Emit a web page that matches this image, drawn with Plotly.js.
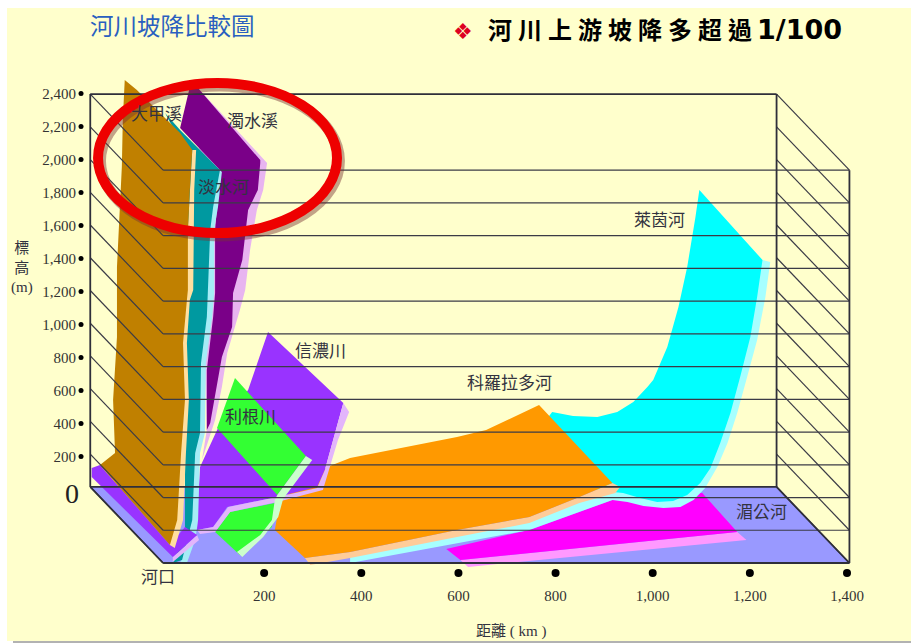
<!DOCTYPE html>
<html><head><meta charset="utf-8">
<script src="https://cdn.plot.ly/plotly-3.0.1.min.js"></script>
<style>html,body{margin:0;padding:0;background:#fff}#c{width:911px;height:644px}</style>
</head><body><div id="c"></div>
<script>
// axis values
const distanceTicks=[200,400,600,800,1000,1200,1400];
const distanceLabels=['200','400','600','800','1,000','1,200','1,400'];
const elevationTicks=[200,400,600,800,1000,1200,1400,1600,1800,2000,2200,2400];
const elevationLabels=['200','400','600','800','1,000','1,200','1,400','1,600','1,800','2,000','2,200','2,400'];
const levels=[0,200,400,600,800,1000,1200,1400,1600,1800,2000,2200,2400];

// river outlines as distance (km) / elevation (m) on the front plane
const mekongKm=[1102,917,746,575,604,1174];
const mekongM=[428,385,202,86,18,189];
const mekongEdgeKm=[1174,1193,620,604];
const mekongEdgeM=[189,141,-24,18];

const rhineEdgeKm=[1096,1226,1242,1232,1215,1191,1174,1154,1133,1108,1084,1057,1022,981,948,917,746,377,377,746,933,1100,1150];
const rhineEdgeM=[2279,1851,1839,1625,1363,1100,917,733,587,458,385,342,336,348,373,385,202,0,43,263,458,900,1800];
const rhineKm=[1096,1226,1215,1201,1180,1160,1139,1119,1098,1071,1042,1009,974,939,686,793,836,886,927,960,989,1001,1030,1053,1071,1088];
const rhineM=[2279,1851,1625,1381,1136,917,733,580,489,415,379,373,397,428,507,923,898,892,923,984,1075,1118,1320,1564,1809,2114];

const coloradoEdgeKm=[917,933,923,849,746,597,377,295,284,377,597,746,849];
const coloradoEdgeM=[489,464,428,367,244,159,31,-12,31,67,202,281,403];
const coloradoKm=[766,917,849,746,597,377,284,222,233,330,377,597,657];
const coloradoM=[965,489,403,281,202,67,31,202,385,587,642,770,813];

const shinanoKm=[208,363,325,309,227,124,95,62,64,68,105,167];
const shinanoM=[1411,978,568,464,403,342,220,202,385,587,825,1057];
const shinanoEdgeKm=[363,375,352,321,227,130,99,68,62,95,126,227,309,325];
const shinanoEdgeM=[978,923,752,446,373,312,189,177,202,220,342,403,458,568];

const toneUpperKm=[140,286,227,103];
const toneUpperM=[1130,654,415,825];
const toneLowerKm=[222,216,150,99,130];
const toneLowerM=[367,220,49,189,312];
const toneEdgeKm=[299,239,229,198,155,144,192,216,222,227,286];
const toneEdgeM=[629,391,281,159,37,67,171,263,385,415,654];

const zhuoshuiEdgeKm=[62,206,198,185,171,161,150,124,113,99,72,82];
const zhuoshuiEdgeM=[2908,2444,2279,2157,1912,1668,1546,1283,1075,874,629,813];
const zhuoshuiKm=[47,62,192,192,187,167,155,136,134,113,89,82,82,95,99,99,103,109,27];
const zhuoshuiM=[2908,2908,2462,2444,2279,2157,1851,1650,1442,1259,855,813,1179,1503,1650,2035,2175,2401,2658];

const tamsuiEdgeKm=[109,113,105,97,97,93,80,78,68,64,58,41,27,47,37];
const tamsuiEdgeM=[2401,2389,2175,2035,1650,1503,1222,794,672,263,141,0,0,202,1607];
const tamsuiKm=[-4,27,109,95,89,84,82,70,68,58,52,31,12,37,37,37];
const tamsuiM=[2750,2646,2401,2175,2035,1650,1503,1222,794,672,263,18,0,183,1607,2523];

const mouthKm=[-155,-138,6,37,62,12,-155];
const mouthM=[580,599,110,220,171,37,525];
const mouthEdgeKm=[62,12,12,66];
const mouthEdgeM=[171,37,6,141];

const tachiaEdgeKm=[52,60,56,54,47,41,45,39,33,16,6];
const tachiaEdgeM=[2523,2523,2279,1668,1607,1344,996,672,263,92,110];
const tachiaKm=[-87,-62,27,52,47,43,43,41,33,37,29,21,6,-138,-107,-111,-103,-103,-93,-91];
const tachiaM=[2951,2890,2627,2523,2279,2016,1668,1607,1344,996,672,263,110,599,672,996,1381,1809,2420,2707];

// river name labels
const riverNames=['大甲溪','濁水溪','淡水河','萊茵河','信濃川','科羅拉多河','利根川','湄公河','河口'];
const riverLabelKm=[-21,177,117,1014,317,705,171,1224,-19];
const riverLabelM=[2743,2695,2297,2090,1295,1094,886,306,-86];

const depthKm=-150, depthM=465;
const frameLeft=-8, frameRight=1405;
const kmScale=680/1400, mPerPx=6.11;

function poly(x,y,color){return {type:'scatter',mode:'none',x:x,y:y,fill:'toself',fillcolor:color,hoverinfo:'skip',showlegend:false};}

const traces=[];
// floor
traces.push(poly([frameLeft,frameRight,frameRight+depthKm,frameLeft+depthKm],[0,0,depthM,depthM],'#9999ff'));
const MAG='#ff00ff',MAGL='#ff99ff',CY='#00ffff',CYL='#a6ffff',OR='#ff9900',ORL='#ffcc99',
 VI='#9933ff',VIL='#e3b5fb',GR='#33ff33',GRL='#ccffcc',DP='#7a0088',DPL='#e8b4f0',TE='#0099a0',TEL='#a5ecf6',BR='#c08000',BRL='#ffdf9f';
traces.push(poly(mekongEdgeKm,mekongEdgeM,MAGL),poly(mekongKm,mekongM,MAG));
traces.push(poly(rhineEdgeKm,rhineEdgeM,CYL),poly(rhineKm,rhineM,CY));
traces.push(poly(coloradoEdgeKm,coloradoEdgeM,ORL),poly(coloradoKm,coloradoM,OR));
traces.push(poly(toneLowerKm,toneLowerM,GR));
traces.push(poly(shinanoKm,shinanoM,VI),poly(shinanoEdgeKm,shinanoEdgeM,VIL));
traces.push(poly(toneUpperKm,toneUpperM,GR),poly(toneEdgeKm,toneEdgeM,GRL));
traces.push(poly(zhuoshuiEdgeKm,zhuoshuiEdgeM,DPL),poly(zhuoshuiKm,zhuoshuiM,DP));
traces.push(poly(tamsuiEdgeKm,tamsuiEdgeM,TEL),poly(tamsuiKm,tamsuiM,TE));
traces.push(poly(mouthEdgeKm,mouthEdgeM,VIL),poly(mouthKm,mouthM,VI));
traces.push(poly(tachiaEdgeKm,tachiaEdgeM,BRL),poly(tachiaKm,tachiaM,BR));

// grid
const gx=[],gy=[];
function seg(a,b,c,d){gx.push(a,c,null);gy.push(b,d,null);}
levels.forEach(v=>{
  seg(frameLeft,v,frameRight,v);
  seg(frameLeft+depthKm,v+depthM,frameLeft,v);
  seg(frameRight+depthKm,v+depthM,frameRight,v);
});
traces.push({type:'scatter',mode:'lines',x:gx,y:gy,line:{color:'#3b3b46',width:1.2},hoverinfo:'skip',showlegend:false});
const topLevel=2400;
const fx=[],fy=[];
function seg2(a,b,c,d){fx.push(a,c,null);fy.push(b,d,null);}
seg2(frameLeft+depthKm,depthM,frameLeft+depthKm,topLevel+depthM);
seg2(frameRight+depthKm,depthM,frameRight+depthKm,topLevel+depthM);
seg2(frameRight,0,frameRight,topLevel);
seg2(frameLeft+depthKm,topLevel+depthM,frameRight+depthKm,topLevel+depthM);
seg2(frameLeft+depthKm,depthM,frameRight+depthKm,depthM);
seg2(frameLeft,0,frameRight,0);
seg2(frameLeft+depthKm,depthM,frameLeft,0);
seg2(frameRight+depthKm,depthM,frameRight,0);
traces.push({type:'scatter',mode:'lines',x:fx,y:fy,line:{color:'#2f2f3a',width:1.8},hoverinfo:'skip',showlegend:false});

// tick dots
traces.push({type:'scatter',mode:'markers',x:distanceTicks,y:distanceTicks.map(()=>-61),marker:{color:'#000',size:8},hoverinfo:'skip',showlegend:false});
traces.push({type:'scatter',mode:'markers',x:elevationTicks.map(()=>-177),y:elevationTicks,yaxis:'y2',marker:{color:'#000',size:5},hoverinfo:'skip',showlegend:false});

const cjk='"Liberation Serif","Noto Sans CJK TC",serif';
const ann=[];
riverNames.forEach((n,i)=>ann.push({x:riverLabelKm[i],y:riverLabelM[i],text:n,showarrow:false,xanchor:'center',yanchor:'middle',font:{family:cjk,size:17,color:'#333340'}}));
ann.push({x:12,y:3275,text:'河川坡降比較圖',showarrow:false,font:{family:cjk,size:23.5,color:'#2a5fc0'}});
ann.push({x:933,y:3250,text:'<b>河\u2005川\u2005上\u2005游\u2005坡\u2005降\u2005多\u2005超\u2005過</b>',showarrow:false,font:{family:cjk,size:24,color:'#000'}});
ann.push({x:1302,y:3257,text:'<b>1/100</b>',showarrow:false,font:{family:'"DejaVu Sans",sans-serif',size:27,color:'#000'}});
ann.push({x:610,y:3250,text:'\u2756',showarrow:false,font:{family:'"DejaVu Sans",sans-serif',size:22,color:'#dd0022'}});
ann.push({x:-299,y:1802,text:'標<br>高<br>(m)',showarrow:false,font:{family:cjk,size:15,color:'#333340'}});
ann.push({x:709,y:-415,text:'距離 ( km )',showarrow:false,font:{family:cjk,size:15,color:'#333340'}});
ann.push({x:-195,y:-25,yref:'y2',text:'0',showarrow:false,font:{family:'"Liberation Serif",serif',size:28,color:'#222'}});

const layout={width:911,height:644,margin:{l:0,r:0,t:0,b:0,pad:0},paper_bgcolor:'#fff',plot_bgcolor:'rgba(0,0,0,0)',showlegend:false,
 xaxis:{range:[-167/kmScale,(911-167)/kmScale],anchor:'free',position:(644-585)/644,showgrid:false,zeroline:false,showline:false,ticks:'',tickvals:distanceTicks,ticktext:distanceLabels,tickfont:{family:'"Liberation Serif",serif',size:15,color:'#333'}},
 yaxis:{range:[-81*mPerPx,563*mPerPx],showgrid:false,zeroline:false,showline:false,ticks:'',showticklabels:false},
 yaxis2:{overlaying:'y',anchor:'free',position:76/911,side:'left',range:[-154.5/0.165,489.5/0.165],showgrid:false,zeroline:false,showline:false,ticks:'',tickvals:elevationTicks,ticktext:elevationLabels,tickfont:{family:'"Liberation Serif",serif',size:15,color:'#333'}},
 annotations:ann,
 shapes:[
  {type:'rect',layer:'below',xref:'paper',yref:'paper',x0:7/911,x1:1,y0:3/644,y1:1-8/644,fillcolor:'#ffffcc',line:{width:0}},
  {type:'line',layer:'below',xref:'paper',yref:'paper',x0:13/911,x1:1,y0:2/644,y1:2/644,line:{color:'#999',width:1.5}},
  {type:'circle',xref:'x',yref:'y',x0:-137,x1:355,y0:1998,y1:2915,fillcolor:'rgba(0,0,0,0)',line:{color:'rgba(120,50,50,0.45)',width:11}},
  {type:'circle',xref:'x',yref:'y',x0:-142,x1:350,y0:2016,y1:2933,fillcolor:'rgba(0,0,0,0)',line:{color:'#ee0000',width:10}}
 ]};
Plotly.newPlot('c',traces,layout,{displayModeBar:false,staticPlot:true});
</script></body></html>
